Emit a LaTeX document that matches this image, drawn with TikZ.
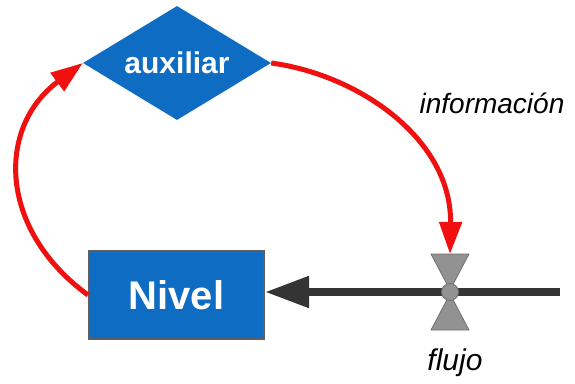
\documentclass[tikz,border=0pt]{standalone}
\usepackage{fontspec}
\setmainfont{Liberation Sans}
\usetikzlibrary{arrows.meta,shapes.geometric}
\definecolor{boxblue}{RGB}{14,108,194}
\definecolor{linkred}{RGB}{240,16,16}
\definecolor{flowgray}{RGB}{52,52,52}
\definecolor{valvefill}{RGB}{146,146,146}
\definecolor{valveedge}{RGB}{112,112,112}
\tikzset{
  stock/.style={rectangle, fill=boxblue, draw={rgb,255:red,95;green,95;blue,95}, line width=2pt,
    minimum width=175pt, minimum height=88pt, inner sep=0pt,
    text=white, font=\bfseries\fontsize{40}{44}\selectfont},
  converter/.style={diamond, aspect=1.7, fill=boxblue, minimum width=188pt, minimum height=114pt,
    inner sep=0pt, text=white, font=\bfseries\fontsize{30}{34}\selectfont},
  infolink/.style={draw=linkred, line width=5pt, -{Triangle[length=32pt,width=22pt]}},
  flowpipe/.style={draw=flowgray, line width=8pt, -{Triangle[length=44pt,width=30pt]}},
  valvepart/.style={fill=valvefill, draw=valveedge, line width=0.8pt},
  caption/.style={font=\itshape\fontsize{28}{32}\selectfont, anchor=base}
}
\begin{document}
\begin{tikzpicture}[x=1pt, y=-1pt]
  \useasboundingbox (0,0) rectangle (575,383);
  \fill[white] (0,0) rectangle (575,383);

  % stock and converter
  \node[stock] (nivel) at (176.5,295) {Nivel};
  \node[converter] (aux) at (177,63) {auxiliar};

  % flow pipe with its valve
  \coordinate (src) at (560,292);
  \coordinate (valve) at (450,292);
  \coordinate (vtop) at (450,254);
  \draw[flowpipe] (src) -- (nivel.east |- src);
  \draw[valvepart] (431,254) -- (469,254) -- (450,290) -- cycle;
  \draw[valvepart] (431,330) -- (469,330) -- (450,294) -- cycle;
  \draw[valvepart] (valve) circle[radius=8.5];

  % information links
  \draw[infolink] (aux.east) .. controls (360,75) and (452,140) .. (vtop);
  \draw[infolink] (nivel.west) .. controls +(-89,-65) and +(-87,65) .. (aux.west);

  % labels
  \node[caption] (info) at (492,113) {información};
  \node[caption, font=\itshape\fontsize{30}{34}\selectfont] (flujo) at (455,370) {flujo};
\end{tikzpicture}
\end{document}
